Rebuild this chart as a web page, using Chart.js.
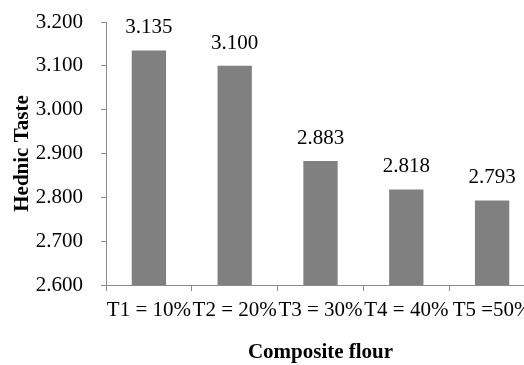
<!DOCTYPE html>
<html>
<head>
<meta charset="utf-8">
<script src="https://cdn.jsdelivr.net/npm/chart.js@4.4.1/dist/chart.umd.min.js"></script>
<style>
  html, body { margin: 0; padding: 0; overflow: hidden; background: #fff; }
  #wrap { width: 560px; height: 365px; }
</style>
</head>
<body>
<div id="wrap"><canvas id="grafico" width="560" height="365"></canvas></div>
<script>
    // dados
    const tratamentos = ['T1 = 10%', 'T2 = 20%', 'T3 = 30%', 'T4 = 40%', 'T5 =50%'];
    const sabor = [3.135, 3.100, 2.883, 2.818, 2.793];
    const yMin = 2.6;
    const yMax = 3.2;
    const yStep = 0.1;

    const serif = '"Liberation Serif", "Times New Roman", serif';
    const cinza = '#8c8c8c';

    // rótulos de valor acima das barras
    const rotulos = {
      id: 'rotulos',
      afterDatasetsDraw(chart) {
        const ctx = chart.ctx;
        const meta = chart.getDatasetMeta(0);
        ctx.save();
        ctx.font = '21px ' + serif;
        ctx.fillStyle = '#000';
        ctx.textAlign = 'center';
        ctx.textBaseline = 'alphabetic';
        meta.data.forEach((bar, i) => {
          ctx.fillText(sabor[i].toFixed(3), bar.x, bar.y - 17);
        });
        ctx.restore();
      }
    };

    const ctx = document.getElementById('grafico').getContext('2d');

    new Chart(ctx, {
      type: 'bar',
      data: {
        labels: tratamentos,
        datasets: [{
          data: sabor,
          backgroundColor: '#808080',
          borderWidth: 0,
          barPercentage: 0.4,
          categoryPercentage: 1
        }]
      },
      options: {
        responsive: false,
        animation: false,
        devicePixelRatio: 1,
        layout: { padding: { top: 22, right: 25, bottom: 0, left: 0 } },
        plugins: {
          legend: { display: false },
          tooltip: { enabled: false }
        },
        scales: {
          x: {
            offset: true,
            grid: { offset: true, drawOnChartArea: false, tickLength: 6, color: cinza },
            border: { color: cinza },
            ticks: {
              color: '#000',
              font: { family: serif, size: 21, lineHeight: 1.2 },
              padding: 7,
              autoSkip: false,
              maxRotation: 0,
              minRotation: 0
            },
            title: {
              display: true,
              text: 'Composite flour',
              color: '#000',
              font: { family: serif, size: 21, weight: 'bold', lineHeight: 1.2 },
              padding: 0
            },
            afterFit: s => { s.height = 80; s.paddingLeft = 0; s.paddingRight = 0; }
          },
          y: {
            min: yMin,
            max: yMax,
            grid: { drawOnChartArea: false, tickLength: 5, color: cinza },
            border: { color: cinza },
            ticks: {
              stepSize: yStep,
              color: '#000',
              font: { family: serif, size: 21, lineHeight: 1.2 },
              padding: 18,
              callback: v => v.toFixed(3)
            },
            title: {
              display: true,
              text: 'Hednic Taste',
              color: '#000',
              font: { family: serif, size: 21, weight: 'bold', lineHeight: 1.2 },
              padding: { top: 10, bottom: 0 }
            },
            afterFit: s => { s.width = 106; s.paddingTop = 0; s.paddingBottom = 0; }
          }
        }
      },
      plugins: [rotulos]
    });
</script>
</body>
</html>
